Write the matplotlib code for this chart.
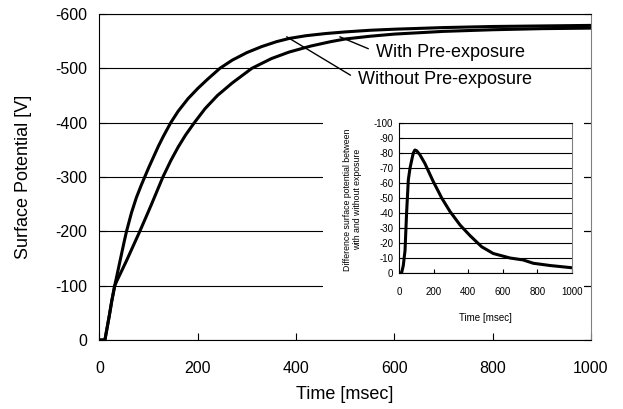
import numpy as np
import matplotlib
matplotlib.use("Agg")
import matplotlib.pyplot as plt

plt.rcParams['font.family'] = ['Liberation Sans', 'DejaVu Sans']
plt.rcParams['axes.unicode_minus'] = False

# main chart: surface potential vs time
t_with = [0, 11, 15, 20, 25, 31, 40, 50, 55, 65, 75, 85, 92, 100, 110, 120, 130,
          145, 160, 180, 200, 220, 245, 270, 300, 330, 360, 386, 420, 460, 500,
          550, 600, 700, 800, 900, 1000]
v_with = [0, 0, -20, -45, -72, -100, -138, -180, -200, -234, -262, -285, -300,
          -317, -337, -357, -375, -400, -421, -444, -463, -480, -500, -515, -529,
          -540, -549, -555, -560, -564, -567, -570, -572, -575, -577, -578, -579]

t_without = [0, 11, 15, 20, 25, 31, 36, 45, 55, 65, 75, 82, 95, 105, 117, 129,
             145, 160, 175, 193, 215, 240, 270, 310, 350, 386, 430, 470, 500,
             550, 600, 700, 800, 900, 1000]
v_without = [0, 0, -20, -45, -72, -100, -110, -127, -146, -166, -186, -200, -227,
             -248, -274, -300, -330, -355, -377, -400, -426, -450, -473, -500,
             -518, -530, -541, -549, -554, -559, -563, -568, -571, -573, -574]

# inset: difference between the two curves
t_diff = [0, 15, 25, 35, 44, 54, 64, 75, 83, 92, 102, 120, 150, 170, 198, 225,
          247, 295, 353, 410, 478, 545, 642, 718, 776, 873, 1000]
v_diff = [0, 0, -5, -15, -40, -62, -70, -76, -80, -82, -81.5, -79, -73, -68, -61,
          -55, -50, -41, -32, -25, -17.5, -13, -10, -8.7, -6.5, -5, -3.5]

x_ticks = [0, 200, 400, 600, 800, 1000]
y_ticks = [0, -100, -200, -300, -400, -500, -600]
inset_y_ticks = list(range(0, -110, -10))

# leader-line labels: (text, point on curve, text position)
labels = [("With Pre-exposure", (489, -558), (563, -530)),
          ("Without Pre-exposure", (381, -558), (526, -479))]

fig = plt.figure(figsize=(6.23, 4.09), dpi=100)
ax = fig.add_axes([0.1597, 0.1687, 0.7889, 0.7971])

ax.plot(t_with, v_with, color='black', lw=2.2, solid_joinstyle='round')
ax.plot(t_without, v_without, color='black', lw=2.2, solid_joinstyle='round')

ax.set_xlim(0, 1000)
ax.set_ylim(0, -600)
ax.set_xticks(x_ticks)
ax.set_yticks(y_ticks)
ax.yaxis.grid(True, color='black', lw=0.8)
ax.tick_params(direction='in', length=5, labelsize=11.5, right=True)
ax.tick_params(axis='x', pad=15)
ax.tick_params(axis='y', pad=9)
ax.spines['right'].set_color('#808080')
for s in ['left', 'bottom', 'top']:
    ax.spines[s].set_color('black')

ax.set_xlabel("Time [msec]", fontsize=13)
ax.set_ylabel("Surface Potential [V]", fontsize=13)
ax.xaxis.set_label_coords(0.4995, -0.14)
ax.yaxis.set_label_coords(-0.137, 0.5)

for text, xy, xyt in labels:
    ax.annotate(text, xy=xy, xytext=xyt, fontsize=13, va='center', ha='left',
                arrowprops=dict(arrowstyle='-', color='black', lw=1.0,
                                shrinkA=4, shrinkB=0, relpos=(0, 0.5)))

# white box behind the inset chart
box = fig.add_axes([0.5185, 0.2054, 0.419, 0.550])
box.set_facecolor('white')
box.set_xticks([])
box.set_yticks([])
for s in box.spines.values():
    s.set_visible(False)

ins = fig.add_axes([0.6404, 0.3325, 0.2777, 0.3668])
ins.plot(t_diff, v_diff, color='black', lw=2.2, solid_joinstyle='round')
ins.set_xlim(0, 1000)
ins.set_ylim(0, -100)
ins.set_xticks(x_ticks)
ins.set_yticks(inset_y_ticks)
ins.yaxis.grid(True, color='black', lw=0.8)
ins.tick_params(direction='in', length=3, labelsize=7)
ins.tick_params(axis='x', pad=10)
ins.tick_params(axis='y', pad=4)
ins.spines['right'].set_color('#808080')
ins.set_xlabel("Time [msec]", fontsize=7)
ins.set_ylabel("Difference surface potential between\nwith and without exposure",
               fontsize=6.3, multialignment='center')
ins.xaxis.set_label_coords(0.497, -0.267)
ins.yaxis.set_label_coords(-0.214, 0.49)

fig.savefig("out.png", dpi=100)
